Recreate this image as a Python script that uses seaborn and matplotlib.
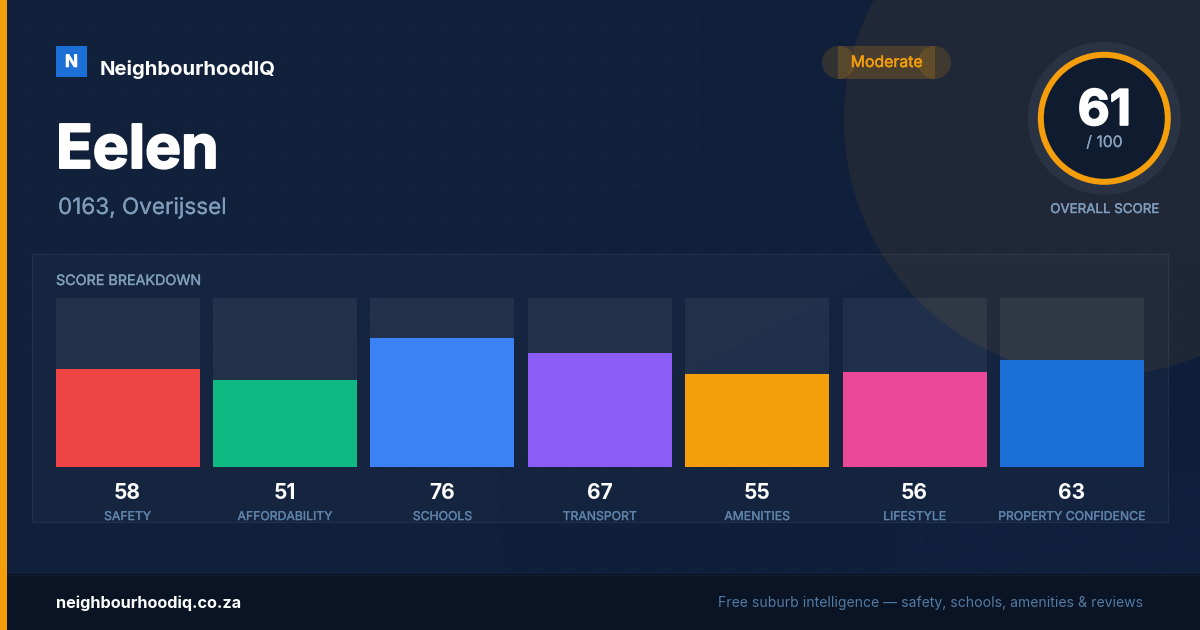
import numpy as np
import seaborn as sns
import matplotlib
matplotlib.use("Agg")
import matplotlib.pyplot as plt
import matplotlib.patheffects as pe
from matplotlib.patches import Rectangle, Circle

# chart values
categories = ["SAFETY", "AFFORDABILITY", "SCHOOLS", "TRANSPORT", "AMENITIES", "LIFESTYLE", "PROPERTY CONFIDENCE"]
scores = [58, 51, 76, 67, 55, 56, 63]
bar_colors = ["#ef4444", "#10b981", "#3b82f6", "#8b5cf6", "#f59e0b", "#ec4899", "#1d6fd8"]
score_max = [100, 100, 100, 100, 100, 100, 100]
overall = 61

sns.set_theme(style="white")
plt.rcParams["font.family"] = ["Inter", "DejaVu Sans"]

W, H = 1200, 630
fig = plt.figure(figsize=(W / 100, H / 100), dpi=100, facecolor="#11213c")


def thick(color, width):
    # Inter only comes in regular and bold here, a thin stroke fakes the weights between
    return [pe.withStroke(linewidth=width, foreground=color)]


# background layer in pixel coordinates
bg = fig.add_axes([0, 0, 1, 1])
grad = np.array([[0.0, 0.5], [0.5, 1.0]])
top_left = np.array([0x12, 0x21, 0x3b]) / 255
far = np.array([0x0f, 0x1f, 0x3c]) / 255
rgb = top_left[None, None, :] + (far - top_left)[None, None, :] * grad[:, :, None]
bg.imshow(rgb, extent=[0, W, H, 0], aspect="auto", interpolation="bilinear", zorder=0)
bg.set_xlim(0, W)
bg.set_ylim(H, 0)
bg.axis("off")

# faint dot grid
gx, gy = np.meshgrid(np.arange(24, W, 32), np.arange(24, 574, 32))
bg.scatter(gx.ravel(), gy.ravel(), s=2.2, color="white", alpha=0.035, linewidths=0, zorder=1)

# large corner circle
bg.add_patch(Circle((1100, 120), 256, color="#f59e0b", alpha=0.07, lw=0, zorder=2))

# panel behind the bars
bg.add_patch(Rectangle((32, 254), 1136, 268, facecolor=(1, 1, 1, 0.025),
                       edgecolor=(1, 1, 1, 0.07), lw=0.8, zorder=3))

# footer and accent strip
bg.add_patch(Rectangle((0, 574), W, 56, color="#0a1424", lw=0, zorder=4))
bg.plot([0, W], [574.5, 574.5], color="#111d30", lw=0.8, zorder=4)
bg.add_patch(Rectangle((0, 0), 7, H, color="#f59e0b", lw=0, zorder=5))

# logo
bg.add_patch(Rectangle((56, 46), 31, 31, color="#1d6fd8", lw=0, zorder=5))
bg.text(71.5, 67, "N", color="white", fontsize=12.5, fontweight="bold", ha="center", va="baseline", zorder=6,
        path_effects=thick("white", 0.4))
bg.text(100, 75, "NeighbourhoodIQ", color="white", fontsize=14.6, fontweight="bold", va="baseline", zorder=6)

# title
bg.text(56, 168, "Eelen", color="white", fontsize=43.5, fontweight="bold", va="baseline", zorder=6,
        path_effects=thick("white", 1.4))
bg.text(58, 214, "0163, Overijssel", color="#7f9cbb", fontsize=16.2, va="baseline", zorder=6,
        path_effects=thick("#7f9cbb", 0.15))

# moderate pill, three overlapping shapes
pill = "#f59e0b"
bg.add_patch(Rectangle((838, 46), 97, 33, color=pill, alpha=0.2, lw=0, zorder=5))
bg.add_patch(Circle((838.5, 62.5), 16.5, color=pill, alpha=0.15, lw=0, zorder=5))
bg.add_patch(Circle((934.5, 62.5), 16.5, color=pill, alpha=0.15, lw=0, zorder=5))
bg.text(886.5, 67, "Moderate", color=pill, fontsize=11.4, ha="center", va="baseline", zorder=6,
        path_effects=thick(pill, 0.3))

# score ring
cx, cy = 1104.3, 118.3
bg.add_patch(Circle((cx, cy), 76.5, color="#2a3344", lw=0, zorder=5))
bg.add_patch(Circle((cx, cy), 66.5, color="#f59e0b", lw=0, zorder=5))
bg.add_patch(Circle((cx, cy), 60.5, color="#0f1b2e", lw=0, zorder=5))
bg.text(cx, 125, str(overall), color="white", fontsize=35.5, fontweight="bold", ha="center", va="baseline", zorder=6,
        path_effects=thick("white", 1.2))
bg.text(cx, 147, "/ 100", color="#8aa4c0", fontsize=11.3, ha="center", va="baseline", zorder=6,
        path_effects=thick("#8aa4c0", 0.15))
bg.text(cx, 213, "OVERALL SCORE", color="#7f9cbb", fontsize=9.6, ha="center", va="baseline", zorder=6,
        path_effects=thick("#7f9cbb", 0.3))

bg.text(56, 285, "SCORE BREAKDOWN", color="#7f9cbb", fontsize=10.3, va="baseline", zorder=6,
        path_effects=thick("#7f9cbb", 0.3))

# footer text
bg.text(56, 608, "neighbourhoodiq.co.za", color="white", fontsize=11.7, fontweight="bold", va="baseline", zorder=6)
bg.text(1143, 607, "Free suburb intelligence \u2014 safety, schools, amenities & reviews",
        color="#527aa3", fontsize=10.08, ha="right", va="baseline", zorder=6)

# bars, track behind the score
pitch = 157.4
bar_w = 144 / pitch
ax = fig.add_axes([55.6 / W, 1 - 466.6 / H, (6 * pitch + 144) / W, 169 / H])
ax.patch.set_alpha(0)
sns.barplot(x=categories, y=score_max, color="white", alpha=0.06, width=bar_w, saturation=1,
            linewidth=0, ax=ax, zorder=1)
sns.barplot(x=categories, y=scores, hue=categories, palette=bar_colors, legend=False, dodge=False,
            width=bar_w, saturation=1, linewidth=0, ax=ax, zorder=2)
ax.set_xlim(-bar_w / 2, 6 + bar_w / 2)
ax.set_ylim(0, 100)
ax.set_yticks([])
ax.set(xlabel=None, ylabel=None)
sns.despine(ax=ax, left=True, bottom=True)
ax.tick_params(axis="x", length=0, pad=32)
for lab in ax.get_xticklabels():
    lab.set_color("#5f82a8")
    lab.set_fontsize(8.8)
    lab.set_path_effects(thick("#5f82a8", 0.25))
for i, v in enumerate(scores):
    ax.text(i, -19, str(v), color="white", fontsize=15, fontweight="bold", ha="center", va="baseline")

fig.savefig("out.png", dpi=100, facecolor=fig.get_facecolor())
